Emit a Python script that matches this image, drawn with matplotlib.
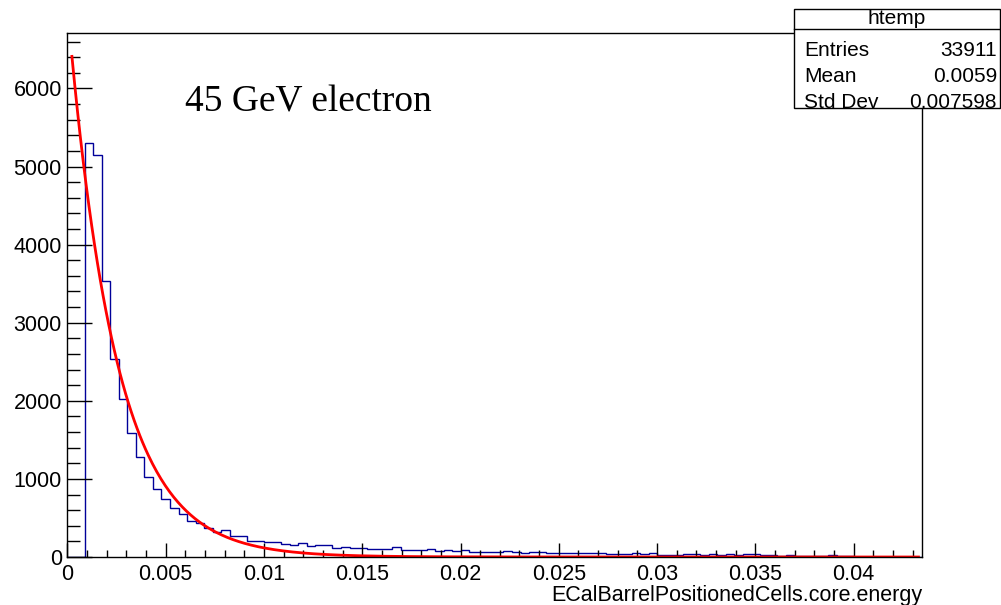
import numpy as np
import matplotlib.pyplot as plt
from matplotlib.ticker import MultipleLocator

# histogram htemp : 100 bins from 0 to 0.0435
nbins = 100
xmin, xmax = 0.0, 0.0435
counts = [
    0, 0, 5300, 5150, 3530, 2535, 2020, 1585, 1285, 1020,
    866, 738, 623, 555, 465, 431, 367, 316, 341, 265,
    273, 205, 205, 192, 196, 162, 158, 175, 145, 154,
    154, 120, 128, 111, 111, 102, 102, 102, 124, 85,
    85, 85, 98, 77, 90, 73, 90, 64, 64, 64,
    64, 77, 64, 51, 68, 68, 51, 51, 51, 51,
    51, 51, 51, 38, 38, 38, 55, 38, 45, 26,
    26, 26, 43, 43, 26, 43, 26, 43, 26, 43,
    43, 26, 26, 9, 26, 9, 9, 9, 9, 26,
    9, 9, 0, 0, 0, 0, 0, 0, 0, 0,
]

# exponential fit exp(p0 + p1*x)
p0 = 8.86
p1 = -410.0
fit_range = (0.00023, 0.0433)

stats_name = "htemp"
stats_rows = [("Entries", "33911"), ("Mean", "0.0059"), ("Std Dev", "0.007598")]

plt.rcParams['font.family'] = ['Liberation Sans', 'DejaVu Sans']

fig = plt.figure(figsize=(10.01, 6.05), dpi=100)
W, H = 1001, 605
ax = fig.add_axes([67.4 / W, 1 - 557 / H, (922.4 - 67.4) / W, (557 - 33) / H])

edges = np.linspace(xmin, xmax, nbins + 1)
ax.stairs(counts, edges, color='#000099', lw=1.0)

xf = np.linspace(fit_range[0], fit_range[1], 600)
ax.plot(xf, np.exp(p0 + p1 * xf), color='red', lw=2)

ax.set_xlim(xmin, xmax)
ax.set_ylim(0, 6710)

ax.xaxis.set_major_locator(MultipleLocator(0.005))
ax.xaxis.set_minor_locator(MultipleLocator(0.001))
ax.yaxis.set_major_locator(MultipleLocator(1000))
ax.yaxis.set_minor_locator(MultipleLocator(200))
ax.xaxis.set_major_formatter(plt.FuncFormatter(lambda v, p: "0" if abs(v) < 1e-9 else f"{v:g}"))

ax.tick_params(axis='x', which='major', direction='in', length=10, width=1,
               labelsize=15.5, pad=5, top=False)
ax.tick_params(axis='x', which='minor', direction='in', length=5, width=1, top=False)
ax.tick_params(axis='y', which='major', direction='in', length=18, width=1,
               labelsize=15.5, pad=4, right=False)
ax.tick_params(axis='y', which='minor', direction='in', length=9, width=1, right=False)
for s in ax.spines.values():
    s.set_linewidth(1)

fig.text(922 / W, 1 - 595 / H, "ECalBarrelPositionedCells.core.energy",
         ha='right', va='center', fontsize=15.5)

fig.text(185 / W, 1 - 111 / H, "45 GeV electron", family='Liberation Serif',
         fontsize=27, ha='left', va='baseline')

# stats box
bx0, bx1, by0, by1 = 794 / W, 1000 / W, 1 - 108 / H, 1 - 9 / H
fig.patches.append(plt.Rectangle((bx0, by0), bx1 - bx0, by1 - by0, transform=fig.transFigure,
                                 facecolor='white', edgecolor='black', lw=1, zorder=5))
ly = 1 - 28.5 / H
fig.add_artist(plt.Line2D([bx0, bx1], [ly, ly], transform=fig.transFigure, color='black', lw=1, zorder=6))
fig.text((bx0 + bx1) / 2, 1 - 19 / H, stats_name, ha='center', va='center', fontsize=15, zorder=7)
for i, (k, v) in enumerate(stats_rows):
    yy = 1 - (50 + 26 * i) / H
    fig.text(804 / W, yy, k, ha='left', va='center', fontsize=15, zorder=7)
    fig.text(997 / W, yy, v, ha='right', va='center', fontsize=15, zorder=7)

fig.savefig("out.png", dpi=100)
